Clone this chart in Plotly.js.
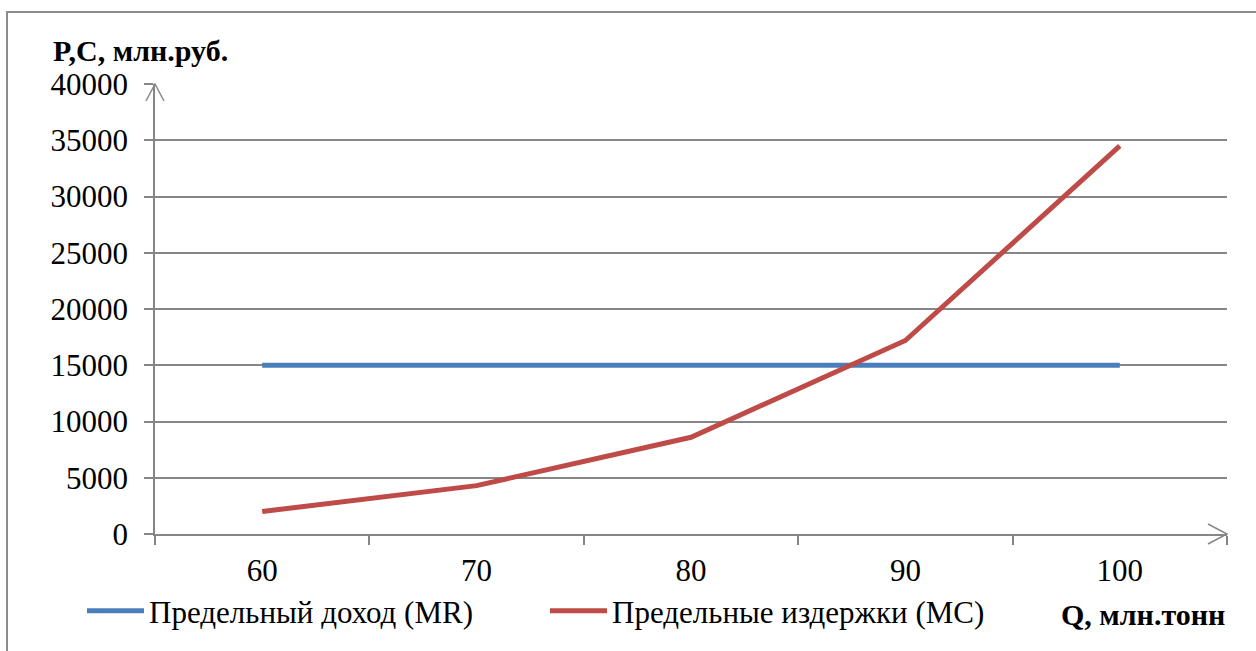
<!DOCTYPE html>
<html>
<head>
<meta charset="utf-8">
<script src="https://cdn.plot.ly/plotly-3.0.1.min.js"></script>
<style>html,body{margin:0;padding:0;background:#fff;}#chart{width:1256px;height:651px;}.modebar-container{display:none !important;}</style>
</head>
<body>
<div id="chart"></div>
<script>
var categories = ["60", "70", "80", "90", "100"];
var mrValues = [15000, 15000, 15000, 15000, 15000];
var mcValues = [2000, 4300, 8600, 17200, 34500];
var mrName = "Предельный доход (MR)";
var mcName = "Предельные издержки (MC)";
var yTitle = "P,C, млн.руб.";
var xTitle = "Q, млн.тонн";

var W = 1072, H = 450; // plot area px
function px(dx){ return dx / W; }
function py(dy){ return dy / H; }

var FONT = "Liberation Serif";

var traces = [
  {x: categories, y: mrValues, name: mrName, type: "scatter", mode: "lines",
   line: {color: "#4A7EBB", width: 5}},
  {x: categories, y: mcValues, name: mcName, type: "scatter", mode: "lines",
   line: {color: "#BE4B48", width: 5}}
];

var axisColor = "#868686";
var layout = {
  width: 1256, height: 651,
  margin: {l: 155, r: 29, t: 84, b: 116.5},
  paper_bgcolor: "#fff", plot_bgcolor: "#fff",
  font: {family: FONT, size: 31, color: "#000"},
  showlegend: true,
  title: {text: "<b>" + yTitle + "</b>", xref: "container", yref: "container",
          x: 53/1256, xanchor: "left", y: 1 - 50/651, yanchor: "middle",
          font: {family: FONT, size: 30, color: "#000"}},
  xaxis: {type: "category", range: [-0.5, 4.5], showgrid: false, zeroline: false,
          showline: true, linecolor: axisColor, linewidth: 1.5,
          ticks: "outside", tickson: "boundaries", ticklen: 9, tickcolor: axisColor, tickwidth: 1.5,
          tickfont: {family: FONT, size: 31, color: "#000"}, ticklabelstandoff: 8, fixedrange: true},
  yaxis: {range: [0, 40000], dtick: 5000, tickformat: "d", showgrid: true, gridcolor: axisColor, gridwidth: 1.5,
          zeroline: false, showline: true, linecolor: axisColor, linewidth: 1.5,
          ticks: "outside", ticklen: 9, tickcolor: axisColor, tickwidth: 1.5,
          tickfont: {family: FONT, size: 31, color: "#000"}, ticklabelstandoff: 10, fixedrange: true},
  legend: {orientation: "h", xref: "container", yref: "container",
           x: 82/1256, xanchor: "left", y: 1 - 611/651, yanchor: "middle",
           itemwidth: 57, entrywidth: 391, entrywidthmode: "pixels",
           font: {family: FONT, size: 31, color: "#000"}, bgcolor: "rgba(0,0,0,0)", traceorder: "normal"},
  annotations: [
    {text: "<b>" + xTitle + "</b>", xref: "paper", yref: "paper", x: 1, xanchor: "right",
     y: -(615 - 534.5)/H, yanchor: "middle", showarrow: false, font: {family: FONT, size: 30, color: "#000"}}
  ],
  shapes: [
    {type: "rect", xref: "paper", yref: "paper", x0: px(7 - 155), x1: 1.2, y0: -0.6, y1: 1 + py(84 - 12),
     line: {color: "#8c8c8c", width: 2}, fillcolor: "rgba(0,0,0,0)", layer: "below"},
    {type: "path", xref: "paper", yref: "paper",
     path: "M" + px(-9) + "," + (1 - py(17)) + " L0,1 L" + px(9) + "," + (1 - py(17)),
     line: {color: axisColor, width: 1.5}},
    {type: "path", xref: "paper", yref: "paper",
     path: "M" + (1 - px(19)) + "," + py(10) + " L1,0 L" + (1 - px(19)) + "," + py(-10),
     line: {color: axisColor, width: 1.5}}
  ]
};

Plotly.newPlot("chart", traces, layout).then(function(){
  var texts = document.querySelectorAll('#chart svg text');
  for (var i = 0; i < texts.length; i++) { texts[i].style.fontFamily = '"Liberation Serif"'; }
});
</script>
</body>
</html>
